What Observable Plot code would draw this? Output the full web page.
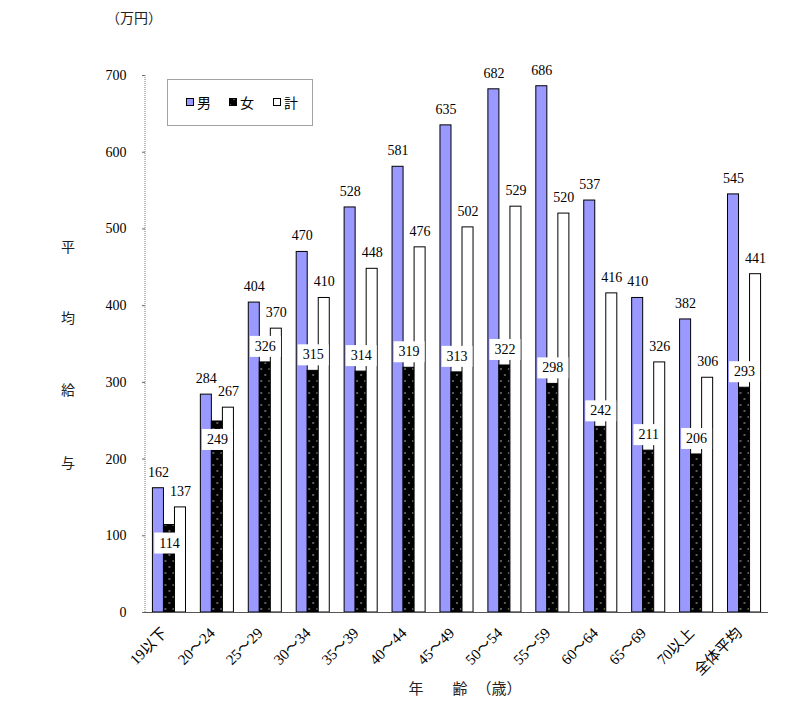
<!DOCTYPE html>
<html><head><meta charset="utf-8">
<script src="https://cdn.jsdelivr.net/npm/d3@7"></script>
<script src="https://cdn.jsdelivr.net/npm/@observablehq/plot@0.6"></script>
<style>body{margin:0;background:#fff}</style>
</head><body><div id="chart"></div>
<script>
const categories = ["19以下","20～24","25～29","30～34","35～39","40～44","45～49","50～54","55～59","60～64","65～69","70以上","全体平均"];
const series = ["男","女","計"];
const male = [162,284,404,470,528,581,635,682,686,537,410,382,545];
const female = [114,249,326,315,314,319,313,322,298,242,211,206,293];
const total = [137,267,370,410,448,476,502,529,520,416,326,306,441];
const yTicks = [0,100,200,300,400,500,600,700];
const femaleLabelBelow = ["19以下","20～24"];

const rows = categories.flatMap((c,i)=>[
  {cat:c, s:"男", v:male[i]},
  {cat:c, s:"女", v:female[i]},
  {cat:c, s:"計", v:total[i]}
]);
const FONT = "'Liberation Serif','Noto Sans CJK JP',serif";
const maleRows = rows.filter(d=>d.s==="男");
const femRows = rows.filter(d=>d.s==="女");
const totRows = rows.filter(d=>d.s==="計");

const plot = Plot.plot({
  width:800, height:716,
  marginLeft:145, marginRight:32, marginTop:75, marginBottom:104,
  style:{fontFamily:FONT, fontSize:"14px", background:"#fff", color:"#000"},
  fx:{domain:categories, paddingInner:0.31, paddingOuter:0.155, round:false, label:null},
  x:{domain:series, axis:null, padding:0, round:false},
  y:{domain:[0,700], label:null},
  marks:[
    Plot.barY(maleRows, {fx:"cat", x:"s", y:"v", fill:"#9999ff", stroke:"#000", strokeWidth:1}),
    Plot.barY(femRows, {fx:"cat", x:"s", y:"v", fill:"url(#dots)", stroke:"#000", strokeWidth:1}),
    Plot.barY(totRows, {fx:"cat", x:"s", y:"v", fill:"#fff", stroke:"#000", strokeWidth:1}),
    Plot.text(maleRows, {fx:"cat", x:"s", y:"v", text:d=>String(d.v), dy:-16, fontSize:14, fill:"#000"}),
    Plot.text(totRows, {fx:"cat", x:"s", y:"v", text:d=>String(d.v), dy:-16, fontSize:14, fill:"#000"}),
    Plot.text(femRows.filter(d=>!femaleLabelBelow.includes(d.cat)), {fx:"cat", x:"s", y:"v", text:d=>String(d.v), dy:-16, fontSize:14, fill:"#000", ariaDescription:"female-labels"}),
    Plot.text(femRows.filter(d=>femaleLabelBelow.includes(d.cat)), {fx:"cat", x:"s", y:"v", text:d=>String(d.v), dy:18, fontSize:14, fill:"#000", ariaDescription:"female-labels"}),
    Plot.axisY({ticks:yTicks, tickSize:3, tickPadding:16, dx:-7.4, fontSize:14, label:null, stroke:"#666"}),
    Plot.axisFx({anchor:"bottom", tickRotate:-45, tickSize:0, tickPadding:12, dx:-5, dy:6, fontSize:15, label:null})
  ]
});
document.getElementById("chart").appendChild(plot);

const svg = d3.select(plot);
const defs = svg.insert("defs", ":first-child");
const pat = defs.append("pattern").attr("id","dots").attr("patternUnits","userSpaceOnUse")
  .attr("width",8).attr("height",12);
pat.append("rect").attr("width",8).attr("height",12).attr("fill","#000");
pat.append("circle").attr("cx",2).attr("cy",3).attr("r",0.8).attr("fill","#ccc");
pat.append("circle").attr("cx",6).attr("cy",9).attr("r",0.8).attr("fill","#ccc");

// white boxes behind female labels
svg.selectAll('g[aria-description="female-labels"] text').each(function(){
  const b = this.getBBox();
  d3.select(this.parentNode).insert("rect", () => this)
    .attr("transform", this.getAttribute("transform"))
    .attr("x", b.x-5).attr("y", b.y-3).attr("width", b.width+10).attr("height", b.height+6)
    .attr("fill","#fff");
});

// axis lines
const ys = plot.scale("y"), fxs = plot.scale("fx");
const y0 = ys.apply(0), yTop = ys.apply(700);
const xl = fxs.range[0], xr = fxs.range[1];
svg.append("line").attr("x1",xl).attr("x2",xl).attr("y1",yTop).attr("y2",y0)
  .attr("stroke","#777").attr("stroke-dasharray","1,1");
svg.append("line").attr("x1",xl).attr("x2",xr).attr("y1",y0+0.5).attr("y2",y0+0.5)
  .attr("stroke","#555").attr("stroke-width",1.2);

// legend
const lg = svg.append("g").attr("font-family",FONT).attr("font-size",14).attr("text-anchor","start");
lg.append("rect").attr("x",167.5).attr("y",79.5).attr("width",145).attr("height",46)
  .attr("fill","none").attr("stroke","#444").attr("stroke-dasharray","1,1");
const legendItems = [
  {s:"男", fill:"#9999ff", x:186},
  {s:"女", fill:"url(#dots)", x:229},
  {s:"計", fill:"#fff", x:273}
];
legendItems.forEach(it=>{
  lg.append("rect").attr("x",it.x+0.5).attr("y",98.5).attr("width",7).attr("height",7)
    .attr("fill",it.fill).attr("stroke","#000");
  lg.append("text").attr("x",it.x+11).attr("y",108).attr("text-anchor","start").text(it.s);
});

// titles
const tg = svg.append("g").attr("font-family",FONT).attr("font-size",14).attr("fill","#222");
tg.append("text").attr("x",134).attr("y",23).attr("text-anchor","middle").text("（万円）");
["平","均","給","与"].forEach((ch,i)=>{
  tg.append("text").attr("x",68).attr("y",[252,323,395,468][i]).attr("text-anchor","middle").text(ch);
});
[["年",416],["齢",460],["（歳）",499]].forEach(([t,x])=>{
  tg.append("text").attr("x",x).attr("y",694).attr("font-size",15).attr("text-anchor","middle").text(t);
});
</script>
</body></html>
